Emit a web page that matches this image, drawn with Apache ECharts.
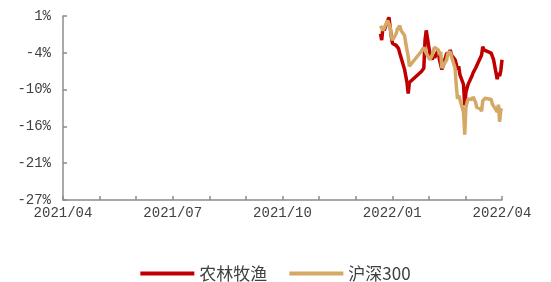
<!DOCTYPE html>
<html>
<head>
<meta charset="utf-8">
<script src="https://cdn.jsdelivr.net/npm/echarts@6/dist/echarts.min.js"></script>
<style>
  html, body { margin: 0; padding: 0; background: #fff; }
  #main { width: 551px; height: 282px; }
</style>
</head>
<body>
<div id="main"></div>
<script>
// trading days, cumulative return (%) since end of 2021
var dates = [
    '2022-01-04', '2022-01-05', '2022-01-06', '2022-01-07', '2022-01-10', '2022-01-11', '2022-01-12',
    '2022-01-13', '2022-01-14', '2022-01-17', '2022-01-18', '2022-01-19', '2022-01-20', '2022-01-21',
    '2022-01-24', '2022-01-25', '2022-01-26', '2022-01-27', '2022-01-28',
    '2022-02-07', '2022-02-08', '2022-02-09', '2022-02-10', '2022-02-11', '2022-02-14', '2022-02-15',
    '2022-02-16', '2022-02-17', '2022-02-18', '2022-02-21', '2022-02-22', '2022-02-23', '2022-02-24',
    '2022-02-25', '2022-02-28',
    '2022-03-01', '2022-03-02', '2022-03-03', '2022-03-04', '2022-03-07', '2022-03-08', '2022-03-09',
    '2022-03-10', '2022-03-11', '2022-03-14', '2022-03-15', '2022-03-16', '2022-03-17', '2022-03-18',
    '2022-03-21', '2022-03-22', '2022-03-23', '2022-03-24', '2022-03-25', '2022-03-28', '2022-03-29',
    '2022-03-30', '2022-03-31',
    '2022-04-01', '2022-04-06', '2022-04-07', '2022-04-08', '2022-04-11', '2022-04-12', '2022-04-13',
    '2022-04-14', '2022-04-15'
];

var agriValues = [
    -1.5, -2.5, -0.5, -1.0, 0.5, 1.0, -0.5,
    -2.0, -3.0, -3.3, -3.0, -3.8, -4.5, -4.2,
    -7.0, -8.0, -9.0, -10.7, -9.0,
    -7.3, -7.0, -6.8, -2.5, -1.0, -4.5, -5.0,
    -5.5, -4.7, -5.2, -4.0, -5.5, -5.3, -7.0,
    -6.5, -4.5,
    -4.3, -4.6, -4.0, -4.8, -5.5, -6.2, -7.0,
    -6.5, -7.8, -9.3, -12.5, -10.5, -9.8, -9.2,
    -8.0, -7.5, -7.2, -6.8, -6.5, -5.2, -4.8,
    -3.5, -4.0,
    -4.3, -4.5, -4.2, -5.5, -8.5, -7.5, -8.0,
    -7.2, -5.5
];

var hs300Values = [
    -0.3, -0.5, -1.0, -0.8, 0.5, 0.0, -0.5,
    -2.0, -2.5, -1.5, -0.8, -1.0, -0.3, -1.0,
    -1.8, -3.0, -3.3, -5.0, -6.5,
    -4.2, -4.0, -3.6, -3.8, -4.5, -5.5, -5.3,
    -4.8, -4.0, -3.6, -4.0, -4.8, -4.3, -6.8,
    -6.5, -5.5,
    -4.5, -4.8, -4.3, -5.0, -6.8, -9.5, -11.5,
    -11.0, -11.3, -13.5, -17.0, -12.8, -12.0, -11.5,
    -11.6, -11.2, -11.5, -12.0, -12.8, -13.0, -13.4,
    -11.8, -11.6,
    -11.4, -11.6, -12.3, -12.0, -13.5, -12.4, -15.0,
    -13.2, -13.0
];

var seriesNames = ['农林牧渔', '沪深300'];
var xTickLabels = ['2021/04', '2021/07', '2021/10', '2022/01', '2022/04'];
var axisStart = '2021-04-15';   // first tick of the date axis
var axisDays = 365;            // axis spans one year, a tick each month
var yBottom = -27;              // lowest y tick (%)
var yTop = 1.2;                 // highest y tick (%), shown as 1%

var chartDom = document.getElementById('main');
var myChart = echarts.init(chartDom);
var option;

var monthStep = axisDays / 12;
var yStep = (yTop - yBottom) / 5;

function dayOf(d) {
    return (Date.parse(d) - Date.parse(axisStart)) / 86400000;
}

// y values are shifted so the axis starts at 0 and ticks fall on multiples of yStep
function toPoints(values) {
    return dates.map(function (d, i) {
        return [dayOf(d), values[i] - yBottom];
    });
}

var labelFont = {
    fontFamily: 'Liberation Mono',
    fontSize: 14,
    color: '#404040'
};

option = {
    animation: false,
    grid: {
        left: 63,
        right: 49,
        top: 16,
        bottom: 82
    },
    legend: {
        data: seriesNames,
        left: 'center',
        top: 260,
        icon: 'rect',
        itemWidth: 54,
        itemHeight: 4,
        itemGap: 22,
        textStyle: {
            fontFamily: 'Noto Sans CJK SC',
            fontSize: 17,
            color: '#404040'
        }
    },
    xAxis: {
        type: 'value',
        min: 0,
        max: axisDays,
        interval: monthStep,
        axisLine: { lineStyle: { color: '#8c8c8c', width: 1.5 } },
        axisTick: { inside: true, length: 4, lineStyle: { color: '#8c8c8c', width: 1.5 } },
        splitLine: { show: false },
        axisLabel: Object.assign({
            margin: 6,
            showMinLabel: true,
            showMaxLabel: true,
            formatter: function (v) {
                var k = Math.round(v / monthStep);
                return k % 3 === 0 ? (xTickLabels[k / 3] || '') : '';
            }
        }, labelFont)
    },
    yAxis: {
        type: 'value',
        min: 0,
        max: yTop - yBottom,
        interval: yStep,
        axisLine: { show: true, lineStyle: { color: '#8c8c8c', width: 1.5 } },
        axisTick: { show: true, inside: true, length: 4, lineStyle: { color: '#8c8c8c', width: 1.5 } },
        splitLine: { show: false },
        axisLabel: Object.assign({
            margin: 12,
            formatter: function (v) {
                return Math.round(v + yBottom) + '%';
            }
        }, labelFont)
    },
    series: [
        {
            name: seriesNames[0],
            type: 'line',
            data: toPoints(agriValues),
            showSymbol: false,
            color: '#C00000',
            lineStyle: { color: '#C00000', width: 3.5 }
        },
        {
            name: seriesNames[1],
            type: 'line',
            data: toPoints(hs300Values),
            showSymbol: false,
            color: '#D4A865',
            lineStyle: { color: '#D4A865', width: 3.5 }
        }
    ]
};

option && myChart.setOption(option);
</script>
</body>
</html>
